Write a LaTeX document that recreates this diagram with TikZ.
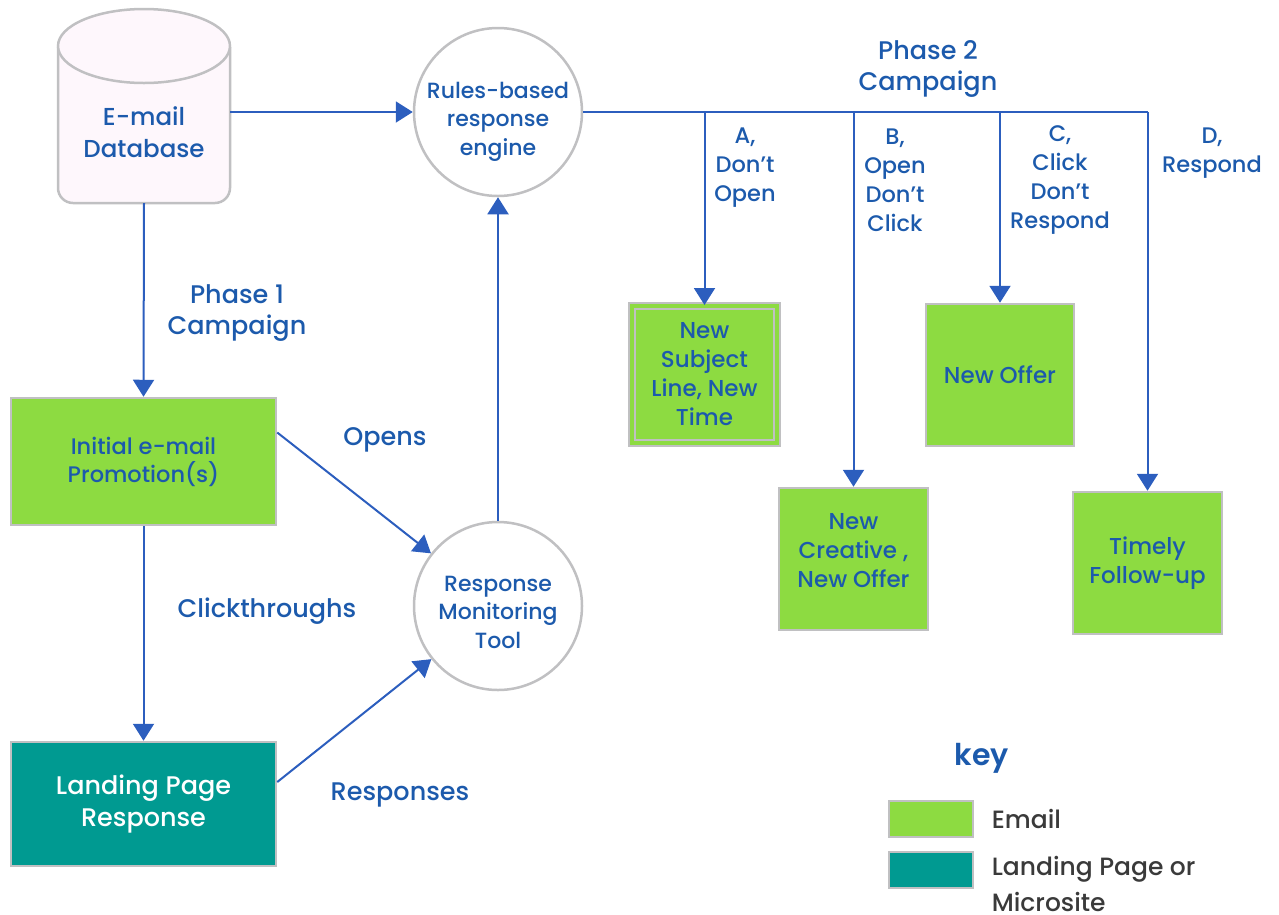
\documentclass[tikz,border=0pt]{standalone}
\usepackage{fontspec}
\setmainfont{Poppins}[UprightFont=* Medium, BoldFont=* SemiBold]
\usetikzlibrary{
  arrows.meta,
  positioning
}
\definecolor{BoxGreen}{RGB}{141, 219, 65}
\definecolor{PageTeal}{RGB}{0, 154, 145}
\definecolor{TextBlue}{RGB}{28, 90, 172}
\definecolor{LineBlue}{RGB}{44, 94, 190}
\definecolor{EdgeGray}{RGB}{192, 192, 194}
\definecolor{KeyGray}{RGB}{58, 58, 58}
% text block moved up or down inside its shape
\newcommand{\movedtext}[2]{\raisebox{#1}[\height][\depth]{\begin{tabular}{@{}c@{}}#2\end{tabular}}}

\begin{document}
\begin{tikzpicture}[
        x=1pt, y=-1pt,
        every node/.style={text=TextBlue, align=center},
        % shapes of the chart
        ring/.style={circle, draw=EdgeGray, line width=2.5pt, fill=white, minimum size=168pt, inner sep=0pt, font=\fontsize{22}{28.5}\selectfont},
        emailbox/.style={rectangle, draw=EdgeGray, line width=2.5pt, fill=BoxGreen, font=\fontsize{23}{29}\selectfont},
        pagebox/.style={rectangle, draw=EdgeGray, line width=2.5pt, fill=PageTeal, text=white, font=\fontsize{25.5}{32}\selectfont},
        lbl/.style={font=\fontsize{25.5}{31}\selectfont},
        branch/.style={font=\fontsize{22.5}{29}\selectfont},
        keytext/.style={text=KeyGray, align=left, anchor=west, font=\fontsize{25}{36}\selectfont},
        line/.style={draw=LineBlue, line width=2pt},
        flow/.style={line, -{Triangle[length=17pt, width=21pt]}}
    ]
    \useasboundingbox (0,0) rectangle (1279,914);

    % Database cylinder
    \filldraw[draw=EdgeGray, fill=white!97!magenta, line width=2.5pt, rounded corners=15pt]
        (58,47) -- (58,203) -- (230,203) -- (230,47);
    \filldraw[draw=EdgeGray, fill=white!97!magenta, line width=2.5pt]
        (144,46) ellipse [x radius=86, y radius=37];
    \node[minimum width=172pt, minimum height=142pt, font=\fontsize{24.5}{32}\selectfont] (db) at (144,132) {E-mail\\Database};

    % Engine and monitor
    \node[ring] (engine) at (498,112) {\movedtext{-9pt}{Rules-based\\response\\engine}};
    \node[ring] (monitor) at (498,606) {\movedtext{-8pt}{Response\\Monitoring\\Tool}};

    % Phase 1 boxes
    \node[emailbox, minimum width=265pt, minimum height=127pt, font=\fontsize{22.5}{28}\selectfont] (initial) at (143.5,461.5) {Initial e-mail\\Promotion(s)};
    \node[pagebox, minimum width=265pt, minimum height=124pt] (landing) at (143.5,804) {Landing Page\\Response};

    % Phase 2 boxes
    \node[emailbox, minimum width=145pt, minimum height=137pt, line width=2pt, double=BoxGreen, double distance=4pt] (subject) at (704.5,374.5) {New\\Subject\\Line, New\\Time};
    \node[emailbox, minimum width=149pt, minimum height=142pt] (creative) at (853.5,559) {\movedtext{6pt}{New\\Creative ,\\New Offer}};
    \node[emailbox, minimum width=148pt, minimum height=142pt] (offer) at (1000,375) {New Offer};
    \node[emailbox, minimum width=149pt, minimum height=142pt] (followup) at (1147.5,563) {Timely\\Follow-up};

    % Arrows
    \draw[flow] (db.east |- engine.west) -- (engine.west);
    \draw[flow] (db.south) -- (initial.north);
    \draw[flow] (initial) -- (landing);
    \draw[flow] ([yshift=29pt]initial.east) -- (monitor);
    \draw[flow] ([yshift=22pt]landing.east) -- (monitor);
    \draw[flow] (monitor) -- (engine);
    \draw[line] (engine.east) -- (engine.east -| followup.north);
    \draw[flow] (engine.east -| subject.north) -- (subject.north);
    \draw[flow] (engine.east -| creative.north) -- (creative.north);
    \draw[flow] (engine.east -| offer.north) -- (offer.north);
    \draw[flow] (engine.east -| followup.north) -- (followup.north);

    % Labels
    \node[lbl] (phase1) at (237,313) {Phase 1\\Campaign};
    \node[lbl] (clicks) at (267,611) {Clickthroughs};
    \node[lbl] (opens) at (385,440) {Opens};
    \node[lbl] (responses) at (400,795) {Responses};
    \node[lbl] (phase2) at (928,69) {Phase 2\\Campaign};
    \node[branch] (branchA) at (745,168) {A,\\Don’t\\Open};
    \node[branch] (branchB) at (895,180) {B,\\Open\\Don’t\\Click};
    \node[branch] (branchC) at (1060,180) {C,\\Click\\Don’t\\Respond};
    \node[branch] (branchD) at (1212,153) {D,\\Respond};

    % Key
    \node[font=\bfseries\fontsize{30}{36}\selectfont] (key) at (982,758) {key};
    \node[emailbox, minimum width=84pt, minimum height=36pt] (keymail) at (931,819) {};
    \node[pagebox, minimum width=84pt, minimum height=36pt] (keypage) at (931,870) {};
    \node[keytext, right=14pt of keymail] (keymailtxt) {Email};
    \node[keytext, right=14pt of keypage, yshift=-14pt] (keypagetxt) {Landing Page or\\Microsite};

\end{tikzpicture}
\end{document}
